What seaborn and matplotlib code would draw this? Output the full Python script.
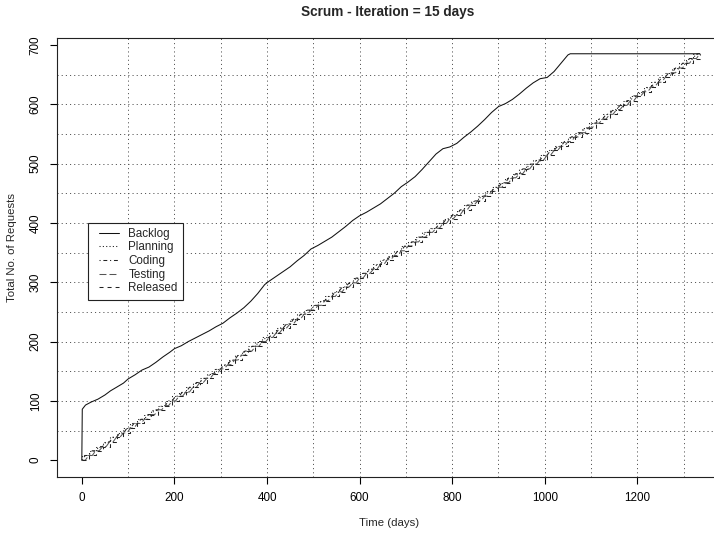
import numpy as np
import pandas as pd
import matplotlib
matplotlib.use("Agg")
import matplotlib.pyplot as plt
from matplotlib.legend_handler import HandlerLine2D
from matplotlib.lines import Line2D
import seaborn as sns

# ---------------------------------------------------------------- data
# Backlog: cumulative number of requests that have entered the backlog
backlog_days = [0, 1, 8, 20, 35, 50, 62, 75, 90, 100, 115, 130, 145, 160, 175,
                190, 200, 215, 230, 245, 260, 275, 290, 305, 320, 335, 350, 365,
                380, 395, 405, 420, 435, 450, 465, 480, 495, 510, 525, 540, 555,
                570, 585, 600, 615, 630, 645, 660, 675, 690, 705, 720, 735, 750,
                765, 780, 795, 810, 825, 840, 855, 870, 885, 900, 915, 930, 945,
                960, 975, 990, 1005, 1020, 1035, 1050, 1055, 1335]
backlog_requests = [0, 86, 93, 98, 103, 110, 117, 123, 130, 137, 144, 152, 157,
                    165, 174, 182, 188, 193, 200, 206, 212, 218, 225, 231, 240,
                    248, 257, 268, 281, 296, 302, 310, 318, 326, 336, 345, 356,
                    362, 369, 376, 385, 394, 404, 412, 418, 425, 432, 441, 450,
                    461, 469, 478, 490, 503, 516, 525, 528, 534, 544, 553, 563,
                    574, 586, 596, 601, 608, 617, 627, 636, 643, 645, 655, 669,
                    683, 685, 685]

# Requests completed in each 15-day iteration
iteration_length = 15
iteration_counts = [
    8, 8, 7, 8, 8, 7, 8, 8, 7, 8,
    8, 7, 8, 8, 7, 8, 8, 7, 8, 8,
    7, 8, 8, 7, 8, 8, 7, 8, 8, 7,
    8, 8, 7, 8, 8, 7, 8, 8, 7, 8,
    8, 7, 8, 8, 7, 8, 8, 7, 8, 8,
    7, 8, 8, 7, 8, 8, 7, 8, 8, 7,
    8, 8, 7, 8, 8, 7, 8, 8, 7, 8,
    8, 7, 8, 8, 7, 8, 8, 7, 8, 8,
    7, 8, 8, 8, 8, 8, 8, 8, 8]

stages = ["Backlog", "Planning", "Coding", "Testing", "Released"]
x_ticks = [0, 200, 400, 600, 800, 1000, 1200]
y_ticks = [0, 100, 200, 300, 400, 500, 600, 700]

# ------------------------------------------------------ build the series
cum = np.concatenate([[0], np.cumsum(iteration_counts)])
n_iter = len(iteration_counts)
bounds = np.arange(n_iter + 1) * iteration_length
half = iteration_length / 2

rows = []
def add(stage, xs, ys):
    for i, (x, y) in enumerate(zip(xs, ys)):
        rows.append({"stage": stage, "order": i, "day": x, "requests": y})

add("Backlog", backlog_days, backlog_requests)

px, py, rx, ry, cx, cy, tx, ty = [0], [0], [], [], [], [], [], []
for k in range(n_iter):
    a, b = bounds[k], bounds[k + 1]
    # planning takes in the whole iteration at its start
    px += [a, b]; py += [cum[k + 1], cum[k + 1]]
    # released only at the end of the iteration
    rx += [a, b]; ry += [cum[k], cum[k]]
    # coding in the first half, testing in the second half
    cx += [a, a + half, b]; cy += [cum[k], cum[k + 1], cum[k + 1]]
    tx += [a, a + half, b]; ty += [cum[k], cum[k], cum[k + 1]]
rx.append(bounds[-1]); ry.append(cum[-1])
add("Planning", px, py)
add("Coding", cx, cy)
add("Testing", tx, ty)
add("Released", rx, ry)
df = pd.DataFrame(rows)

# ---------------------------------------------------------------- style
sns.set_style("ticks")
plt.rcParams["font.family"] = ["Liberation Sans", "DejaVu Sans"]
plt.rcParams["lines.scale_dashes"] = False

fig = plt.figure(figsize=(7.14, 5.34), dpi=100)
W, H = 714, 534
left, right, top, bottom = 57, 727, 37.5, 476.5
ax = fig.add_axes([left / W, (H - bottom) / H, (right - left) / W, (bottom - top) / H])

ax.set_xlim(-53.6, 1393.6)
ax.set_ylim(-27.4, 712.4)

# dotted reference grid
for gy in range(50, 700, 50):
    ax.axhline(gy, color="#555555", lw=0.7, ls=(0, (0.8, 2.2)), zorder=1)
for gx in range(100, 1400, 100):
    ax.axvline(gx, color="#555555", lw=0.7, ls=(0, (0.8, 2.2)), zorder=1)

line_styles = {
    "Backlog": "-",
    "Planning": (0, (0.8, 1.6)),
    "Coding": (0, (0.8, 2.0, 2.8, 2.0)),
    "Testing": (0, (5.0, 2.2)),
    "Released": (0, (2.9, 2.9)),
}
line_colors = {
    "Backlog": "#111111",
    "Planning": "#222222",
    "Coding": "#222222",
    "Testing": "#555555",
    "Released": "#222222",
}

for s in stages:
    sub = df[df["stage"] == s].sort_values("order")
    sns.lineplot(data=sub, x="day", y="requests", estimator=None, sort=False,
                 color=line_colors[s], linestyle=line_styles[s], lw=0.75,
                 label=s, ax=ax, zorder=3)

for sp in ax.spines.values():
    sp.set_color("#222222")
    sp.set_linewidth(0.8)
    sp.set_visible(True)

ax.set_xticks(x_ticks)
ax.set_yticks(y_ticks)
ax.tick_params(axis="both", direction="out", length=5, width=0.8,
               labelsize=8.4, pad=6, colors="black")
ax.tick_params(axis="y", labelrotation=90)
for lbl in ax.get_yticklabels():
    lbl.set_va("center")

ax.set_xlabel("Time (days)", fontsize=8.2)
ax.set_ylabel("Total No. of Requests", fontsize=8.2)
ax.xaxis.set_label_coords((389 - left) / (right - left), (bottom - 523) / (bottom - top))
ax.xaxis.label.set_va("center")
ax.yaxis.set_label_coords((12 - left) / (right - left), (bottom - 248) / (bottom - top))
ax.yaxis.label.set_va("center")

fig.text(388 / W, 1 - 12 / H, "Scrum - Iteration = 15 days",
         ha="center", va="center", fontsize=9.8, fontweight="bold")


class InsetLine(HandlerLine2D):
    """Legend line sample drawn a little inset from the frame."""
    def create_artists(self, legend, orig_handle, xdescent, ydescent,
                       width, height, fontsize, trans):
        arts = super().create_artists(legend, orig_handle, xdescent, ydescent,
                                      width, height, fontsize, trans)
        for a in arts:
            if isinstance(a, Line2D):
                xd = np.asarray(a.get_xdata(), dtype=float)
                if xd.size >= 2:
                    a.set_xdata(np.linspace(xd[0] + 4.2, xd[-1], xd.size))
        return arts


handles, labels = ax.get_legend_handles_labels()
leg = ax.legend(handles, labels, loc="upper left",
                bbox_to_anchor=((87.5 - left) / (right - left), (bottom - 222.5) / (bottom - top)),
                borderaxespad=0, fontsize=8.4, frameon=True, fancybox=False,
                framealpha=1, edgecolor="#222222", facecolor="white",
                handlelength=2.25, handletextpad=0.8, labelspacing=0.14,
                borderpad=0.45, handler_map={Line2D: InsetLine()})
leg.get_frame().set_linewidth(0.8)
leg.set_zorder(5)

fig.savefig("out.png", dpi=100)
